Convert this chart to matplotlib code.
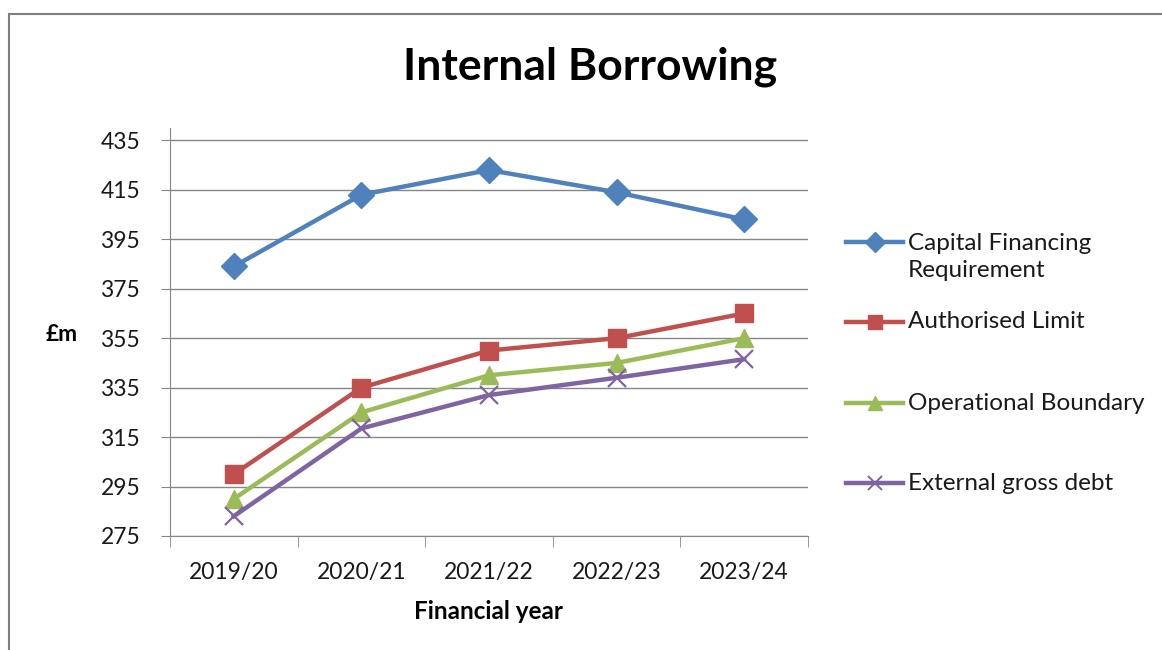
import matplotlib.pyplot as plt
from matplotlib.lines import Line2D
from matplotlib.patches import Rectangle

plt.rcParams['font.family'] = ['Lato', 'DejaVu Sans']

W, H = 1162, 650

years = ['2019/20', '2020/21', '2021/22', '2022/23', '2023/24']
cfr = [384, 413, 423, 414, 403]
authorised = [300, 335, 350, 355, 365]
operational = [290, 325, 340, 345, 355]
external = [283, 318.5, 332, 339, 346.5]

series = [
    ('Capital Financing\nRequirement', cfr, '#4F81BD', 'D', 13),
    ('Authorised Limit', authorised, '#C0504D', 's', 13.5),
    ('Operational Boundary', operational, '#9BBB59', '^', 13.5),
    ('External gross debt', external, '#8064A2', 'x', 13.5),
]
# legend rows (pixel y of the handle)
legend_y = [242, 322, 403, 483]

fig = plt.figure(figsize=(W / 100, H / 100), dpi=100)
fig.add_artist(Rectangle((9 / W, -0.1), 1.2, (H - 14) / H + 0.1,
                         transform=fig.transFigure, fill=False,
                         edgecolor='#7f7f7f', linewidth=1.5))
ax = fig.add_axes([170 / W, 1 - 536 / H, 638 / W, 408 / H])

x = list(range(len(years)))
for name, vals, col, mk, ms in series:
    if mk == 'x':
        ax.plot(x, vals, color=col, lw=3.2, marker=mk, ms=ms, mew=1.6, zorder=3)
    else:
        ax.plot(x, vals, color=col, lw=3.2, marker=mk, ms=ms, mec=col, zorder=3)

ax.set_xlim(-0.5, len(years) - 0.5)
ax.set_ylim(275, 440)
ax.set_yticks(range(275, 436, 20))
ax.set_xticks(x)
ax.set_xticklabels(years)
ax.set_xticks([i - 0.5 for i in range(len(years) + 1)], minor=True)
ax.tick_params(axis='x', which='major', length=0, pad=19, labelsize=16.5, labelcolor='#1a1a1a')
ax.tick_params(axis='x', which='minor', length=8, color='#868686', direction='out')
ax.tick_params(axis='y', length=6.5, color='#868686', labelsize=16.5, pad=15, labelcolor='#1a1a1a')
ax.grid(axis='y', color='#868686', lw=1)
ax.set_axisbelow(True)
for s in ['top', 'right']:
    ax.spines[s].set_visible(False)
for s in ['left', 'bottom']:
    ax.spines[s].set_color('#868686')

ax.set_xlabel('Financial year', fontsize=17.5, fontweight='bold', labelpad=12)
fig.text(62 / W, 1 - 335 / H, '£m', fontsize=16.5, fontweight='bold', ha='center', va='center')

fig.text(590 / W, 1 - 67 / H, 'Internal Borrowing', fontsize=32, fontweight='bold',
         ha='center', va='center')

# legend drawn to the right of the plot
for (name, vals, col, mk, ms), ly in zip(series, legend_y):
    yf = 1 - ly / H
    fig.add_artist(Line2D([846 / W, 903 / W], [yf, yf], color=col, lw=3.2,
                          transform=fig.transFigure))
    lms = ms - 3
    fig.add_artist(Line2D([875 / W], [yf], color=col, marker=mk, ms=lms, mec=col,
                          mew=1.4 if mk == 'x' else 1, transform=fig.transFigure))
    ty = yf - (15 / H if '\n' in name else 0)
    fig.text(908 / W, ty, name, fontsize=17.5, ha='left', va='center',
             linespacing=1.4, color='#1a1a1a')

fig.savefig('out.png', dpi=100)
